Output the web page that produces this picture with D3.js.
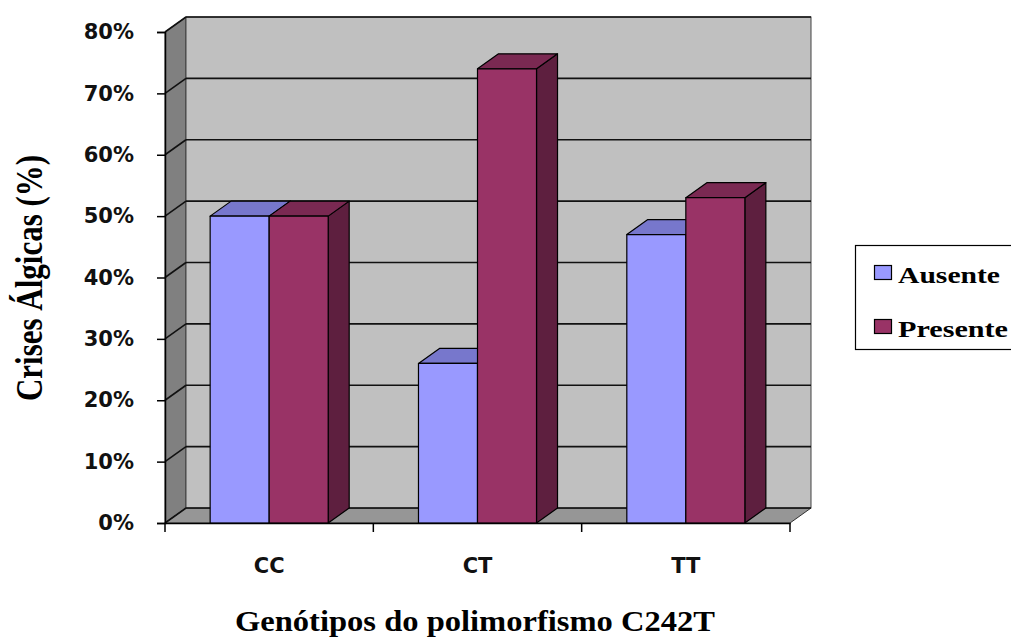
<!DOCTYPE html>
<html><head><meta charset="utf-8">
<script src="https://cdn.jsdelivr.net/npm/d3@7"></script>
<style>body{margin:0;background:#fff}svg{display:block}</style>
</head><body>
<svg id="c" width="1011" height="642"></svg>
<script>
const categories = ["CC", "CT", "TT"];
const series = ["Ausente", "Presente"];
const ausente = [0.50, 0.26, 0.47];
const presente = [0.50, 0.74, 0.53];
const yTicks = [0, 0.1, 0.2, 0.3, 0.4, 0.5, 0.6, 0.7, 0.8];
const yTitle = "Crises Álgicas (%)";
const xTitle = "Genótipos do polimorfismo C242T";

const colors = {
  Ausente: {front: "#9999FF", top: "#7777CC", side: "#5F5FA0"},
  Presente: {front: "#993366", top: "#7A2952", side: "#5E1F3F"}
};
const DX = 21, DY = -15;

const svg = d3.select("#c");
const x0 = d3.scaleBand().domain(categories).range([165, 790]).padding(0);
const x1 = d3.scaleBand().domain(series).range([0, x0.bandwidth()]).paddingInner(0).paddingOuter(0.765);
const y = d3.scaleLinear().domain([0, 0.8]).range([523, 32]);

const L = x0.range()[0], R = x0.range()[1], B = y(0), T = y(0.8);
const poly = pts => pts.map(p => p.join(",")).join(" ");

// walls
svg.append("polygon").attr("points", poly([[L, B], [L, T], [L + DX, T + DY], [L + DX, B + DY]]))
  .attr("fill", "#808080").attr("stroke", "#333").attr("stroke-width", 1);
svg.append("polygon").attr("points", poly([[L, B], [R, B], [R + DX, B + DY], [L + DX, B + DY]]))
  .attr("fill", "#969696").attr("stroke", "#333").attr("stroke-width", 1);
svg.append("rect").attr("x", L + DX).attr("y", T + DY).attr("width", R - L).attr("height", B - T)
  .attr("fill", "#C0C0C0").attr("stroke", "#444").attr("stroke-width", 1);

// gridlines
const grid = svg.append("g");
yTicks.forEach(v => {
  grid.append("line").attr("x1", L + DX).attr("x2", R + DX).attr("y1", y(v) + DY).attr("y2", y(v) + DY)
    .attr("stroke", "#111").attr("stroke-width", 1.6);
  grid.append("line").attr("x1", L).attr("x2", L + DX).attr("y1", y(v)).attr("y2", y(v) + DY)
    .attr("stroke", "#111").attr("stroke-width", 1.6);
});

// bars
const data = categories.map((c, i) => ({cat: c, vals: [{s: "Ausente", v: ausente[i]}, {s: "Presente", v: presente[i]}]}));
const bw = x1.bandwidth();
data.forEach(d => {
  d.vals.forEach(b => {
    const x = x0(d.cat) + x1(b.s), yt = y(b.v), col = colors[b.s];
    const g = svg.append("g").attr("stroke", "#000").attr("stroke-width", 1.2).attr("stroke-linejoin", "round");
    g.append("polygon").attr("points", poly([[x + bw, yt], [x + bw + DX, yt + DY], [x + bw + DX, B + DY], [x + bw, B]])).attr("fill", col.side);
    g.append("polygon").attr("points", poly([[x, yt], [x + bw, yt], [x + bw + DX, yt + DY], [x + DX, yt + DY]])).attr("fill", col.top);
    g.append("rect").attr("x", x).attr("y", yt).attr("width", bw).attr("height", B - yt).attr("fill", col.front);
  });
});

// y axis
const yAxis = svg.append("g").attr("transform", `translate(${L},0)`)
  .call(d3.axisLeft(y).tickValues(yTicks).tickFormat(d3.format(".0%")).tickSize(8).tickPadding(23));
yAxis.select(".domain").attr("stroke", "#000").attr("stroke-width", 1.5);
yAxis.selectAll(".tick line").attr("stroke", "#000").attr("stroke-width", 1.5);
yAxis.selectAll("text").attr("font-family", "DejaVu Sans").attr("font-weight", "bold")
  .attr("font-size", 21).attr("fill", "#111");

// x axis
const xAxis = svg.append("g").attr("transform", `translate(0,${B})`)
  .call(d3.axisBottom(x0).tickSize(0).tickSizeOuter(0));
xAxis.select(".domain").attr("stroke", "#000").attr("stroke-width", 1.5);
xAxis.selectAll("text").attr("y", 50).attr("dy", 0).attr("font-family", "DejaVu Sans").attr("font-weight", "bold")
  .attr("font-size", 21).attr("fill", "#111");
const bounds = categories.map(c => x0(c)).concat([R]);
xAxis.selectAll(".bt").data(bounds).enter().append("line").attr("class", "bt")
  .attr("x1", d => d).attr("x2", d => d).attr("y1", 0).attr("y2", 9).attr("stroke", "#000").attr("stroke-width", 1.5);

// titles
svg.append("text").attr("transform", "translate(42,278) scale(1.2,1) rotate(-90)")
  .attr("text-anchor", "middle").attr("font-family", "Liberation Serif").attr("font-weight", "bold")
  .attr("font-size", 31).text(yTitle);
svg.append("text").attr("x", 475).attr("y", 631).attr("text-anchor", "middle")
  .attr("font-family", "Liberation Serif").attr("font-weight", "bold").attr("font-size", 29)
  .attr("textLength", 480).attr("lengthAdjust", "spacingAndGlyphs").text(xTitle);

// legend
const lg = svg.append("g");
lg.append("rect").attr("x", 855.5).attr("y", 245.5).attr("width", 170).attr("height", 104)
  .attr("fill", "#fff").attr("stroke", "#000").attr("stroke-width", 1.2);
const lw = [102, 110];
series.forEach((s, i) => {
  const yy = 265 + i * 54;
  lg.append("rect").attr("x", 874.5).attr("y", yy + 0.5).attr("width", 17).attr("height", 14)
    .attr("fill", colors[s].front).attr("stroke", "#000").attr("stroke-width", 1.2);
  lg.append("text").attr("x", 898).attr("y", yy + 18).attr("font-family", "Liberation Serif")
    .attr("font-weight", "bold").attr("font-size", 24).attr("textLength", lw[i])
    .attr("lengthAdjust", "spacingAndGlyphs").text(s);
});
</script>
</body></html>
